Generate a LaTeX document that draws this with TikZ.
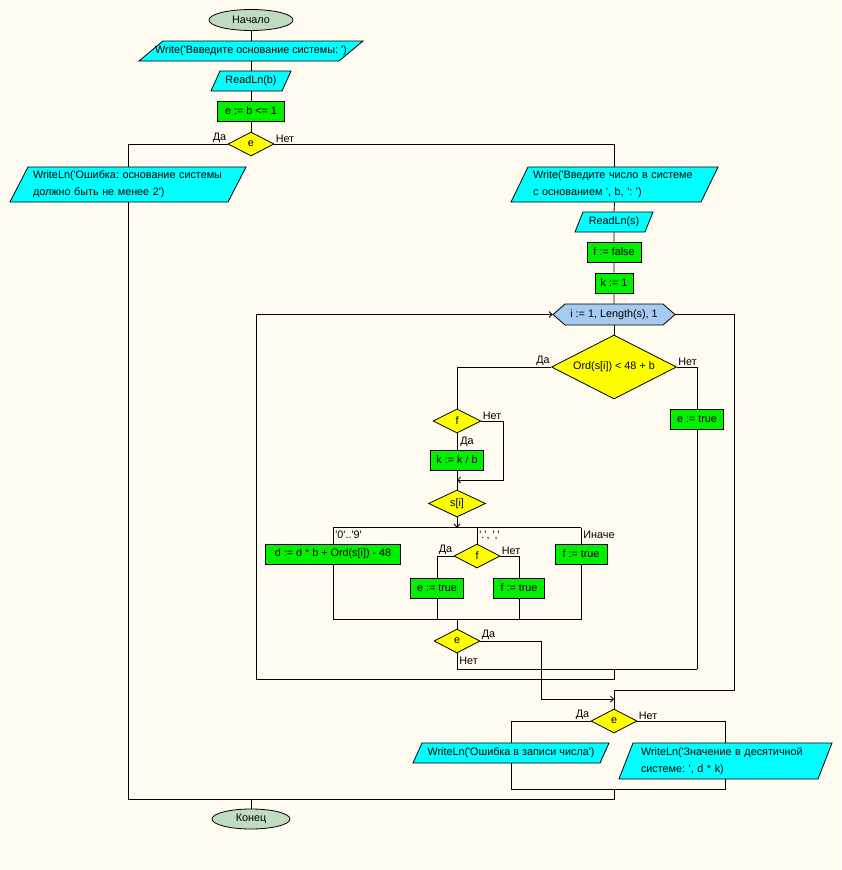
\documentclass[tikz,border=0pt]{standalone}
\usepackage{fontspec}
\setmainfont{Liberation Sans}[Ligatures=TeXOff]
\frenchspacing
\usetikzlibrary{shapes.geometric,arrows.meta}
\definecolor{bgc}{RGB}{255,251,240}
\definecolor{termc}{RGB}{192,220,192}
\definecolor{ioc}{RGB}{0,255,255}
\definecolor{procc}{RGB}{0,240,0}
\definecolor{decc}{RGB}{255,255,0}
\definecolor{loopc}{RGB}{166,202,240}
\newcommand\ioshape[5]{\filldraw[fill=ioc,draw=black,line width=0.8pt] ({#1-#3/2+#5},{#2-#4/2}) -- ({#1+#3/2},{#2-#4/2}) -- ({#1+#3/2-#5},{#2+#4/2}) -- ({#1-#3/2},{#2+#4/2}) -- cycle;}
\newcommand\hexshape[5]{\filldraw[fill=loopc,draw=black,line width=0.8pt] ({#1-#3/2},#2) -- ({#1-#3/2+#5},{#2-#4/2}) -- ({#1+#3/2-#5},{#2-#4/2}) -- ({#1+#3/2},#2) -- ({#1+#3/2-#5},{#2+#4/2}) -- ({#1-#3/2+#5},{#2+#4/2}) -- cycle;}
\begin{document}
\frenchspacing
\begin{tikzpicture}[x=1pt,y=-1pt,
  base/.style={font=\fontsize{10.8}{17}\selectfont, inner sep=0pt, line width=0.8pt},
  term/.style={base, ellipse, draw=black, fill=termc},
  proc/.style={base, rectangle, draw=black, fill=procc, minimum height=20pt},
  dec/.style={base, diamond, aspect=2, draw=black, fill=decc},
  txt/.style={base},
  lbl/.style={base, inner sep=1pt},
  conn/.style={line width=0.8pt},
  arr/.style={conn, -{Straight Barb[length=3pt, width=6pt]}}]
\fill[bgc] (0,0) rectangle (841,870);

% top part
\node[term, minimum width=84pt, minimum height=21pt] (start) at (251,20) {Начало};
\ioshape{251}{51}{224}{20}{24}
\node[txt, minimum width=200pt, minimum height=20pt] (w1) at (251,51) {Write('Ввведите основание системы: ')};
\ioshape{251}{81}{80}{20}{9}
\node[txt, minimum width=71pt, minimum height=20pt] (r1) at (251,81) {ReadLn(b)};
\node[proc, minimum width=67pt] (p1) at (251,111) {e := b <= 1};
\node[dec, minimum width=46pt, minimum height=24pt] (d1) at (251,144) {e};

\ioshape{128}{184.5}{236}{35}{18}
\node[txt, minimum width=218pt, minimum height=35pt, text width=190pt, align=left] (w2) at (128,184.5) {\mbox{WriteLn('Ошибка: основание системы}\\\mbox{должно быть не менее 2')}};

\ioshape{614.5}{184.5}{207}{35}{17}
\node[txt, minimum width=190pt, minimum height=35pt, text width=163pt, align=left] (w3) at (614.5,184.5) {\mbox{Write('Введите число в системе}\\\mbox{с основанием ', b, ': ')}};
\ioshape{614}{222}{78}{20}{8}
\node[txt, minimum width=70pt, minimum height=20pt] (r2) at (614,222) {ReadLn(s)};
\node[proc, minimum width=54pt] (p2) at (614,252) {f := false};
\node[proc, minimum width=38pt] (p3) at (614,283) {k := 1};
\hexshape{614}{314.5}{122}{21}{12}
\node[txt, minimum width=122pt, minimum height=21pt] (lp) at (614,314.5) {i := 1, Length(s), 1};

% loop body
\node[dec, minimum width=125pt, minimum height=64pt] (d2) at (614,367) {Ord(s[i]) < 48 + b};
\node[dec, minimum width=48pt, minimum height=24pt] (d3) at (457,421) {f};
\node[proc, minimum width=53pt] (p4) at (457,460) {k := k / b};
\coordinate (m1) at (457,480);
\node[dec, minimum width=57pt, minimum height=27pt] (d4) at (457,503.5) {s[i]};
\coordinate (c1) at (457,527.5);
\node[proc, minimum width=135pt] (p5) at (333,554) {d := d * b + Ord(s[i]) - 48};
\node[dec, minimum width=46pt, minimum height=24pt] (d5) at (477,556) {f};
\node[proc, minimum width=53pt] (p6) at (437,588) {e := true};
\node[proc, minimum width=51pt] (p7) at (519,588) {f := true};
\node[proc, minimum width=52pt] (p8) at (581,554) {f := true};
\coordinate (c3) at (457,619);
\node[dec, minimum width=46pt, minimum height=24pt] (d6) at (457,641) {e};
\node[proc, minimum width=53pt] (p9) at (697,419) {e := true};
\coordinate (c4) at (697,669);
\coordinate (c2) at (614,699);

% bottom part
\node[dec, minimum width=46pt, minimum height=24pt] (d7) at (614,721) {e};
\ioshape{511}{753}{196}{20}{9}
\node[txt, minimum width=187pt, minimum height=20pt] (w4) at (511,753) {WriteLn('Ошибка в записи числа')};
\ioshape{725.5}{761}{213}{36}{14}
\node[txt, minimum width=199pt, minimum height=36pt, text width=169pt, align=left] (w5) at (725.5,761) {\mbox{WriteLn('Значение в десятичной}\\\mbox{системе: ', d * k)}};
\coordinate (c5) at (614,789);
\node[term, minimum width=78pt, minimum height=20pt] (end) at (251,819) {Конец};

% connectors
\draw[conn] (start.south) -- (w1.north) (w1.south) -- (r1.north) (r1.south) -- (p1.north) (p1.south) -- (d1.north);
\draw[conn] (d1.west) -| (w2.north);
\draw[conn] (d1.east) -| (w3.north);
\draw[conn] (w3.south) -- (r2.north) (r2.south) -- (p2.north) (p2.south) -- (p3.north) (p3.south) -- (lp.north);
\draw[conn] (lp.south) -- (d2.north);
\draw[conn] (d2.west) -| (d3.north);
\draw[conn] (d3.south) -- (p4.north) (p4.south) -- (d4.north);
\draw[arr] (d3.east) -- (503,421) |- (m1);
\draw[arr] (d4.south) -- (c1);
\draw[conn] (p5.north |- c1) -- (p8.north |- c1);
\draw[conn] (p5.north |- c1) -- (p5.north) (d5.north |- c1) -- (d5.north) (p8.north |- c1) -- (p8.north);
\draw[conn] (d5.west) -| (p6.north);
\draw[conn] (d5.east) -| (p7.north);
\draw[conn] (p5.south) -- (p5.south |- c3) -- (p8.south |- c3) -- (p8.south);
\draw[conn] (p6.south) -- (p6.south |- c3) (p7.south) -- (p7.south |- c3);
\draw[conn] (c3) -- (d6.north);
\draw[arr] (d6.east) -| (541,699) -- (c2);
\draw[conn] (d6.south) |- (c4);
\draw[conn] (d2.east) -| (p9.north);
\draw[conn] (p9.south) -- (c4);
\draw[arr] (614,669) -- (614,679) -- (256,679) |- (lp.west);
\draw[conn] (lp.east) -- (734,314.5) |- (614,690) -- (d7.north);
\draw[conn] (d7.west) -| (w4.north);
\draw[conn] (d7.east) -| (w5.north);
\draw[conn] (w4.south) -- (w4.south |- c5) -- (w5.south |- c5) -- (w5.south);
\draw[conn] (c5) -- (614,799) -- (128,799) -- (w2.south);
\draw[conn] (end.north) -- (251,799);

% labels
\node[lbl, anchor=south east] at (d1.west) {Да};
\node[lbl, anchor=south west] at (d1.east) {Нет};
\node[lbl, anchor=south east] at (d2.west) {Да};
\node[lbl, anchor=south west] at (d2.east) {Нет};
\node[lbl, anchor=south west] at (d3.east) {Нет};
\node[lbl, anchor=north west, xshift=2pt, yshift=-2pt] at (d3.south) {Да};
\node[lbl, anchor=north west] at (334,529.5) {'0'..'9'};
\node[lbl, anchor=north west] at (478,529.5) {'.', ','};
\node[lbl, anchor=north west] at (582,529.5) {Иначе};
\node[lbl, anchor=south east] at (d5.west) {Да};
\node[lbl, anchor=south west] at (d5.east) {Нет};
\node[lbl, anchor=south west] at (d6.east) {Да};
\node[lbl, anchor=north west, xshift=1pt, yshift=-2pt] at (d6.south) {Нет};
\node[lbl, anchor=south east] at (d7.west) {Да};
\node[lbl, anchor=south west] at (d7.east) {Нет};
\end{tikzpicture}
\end{document}
